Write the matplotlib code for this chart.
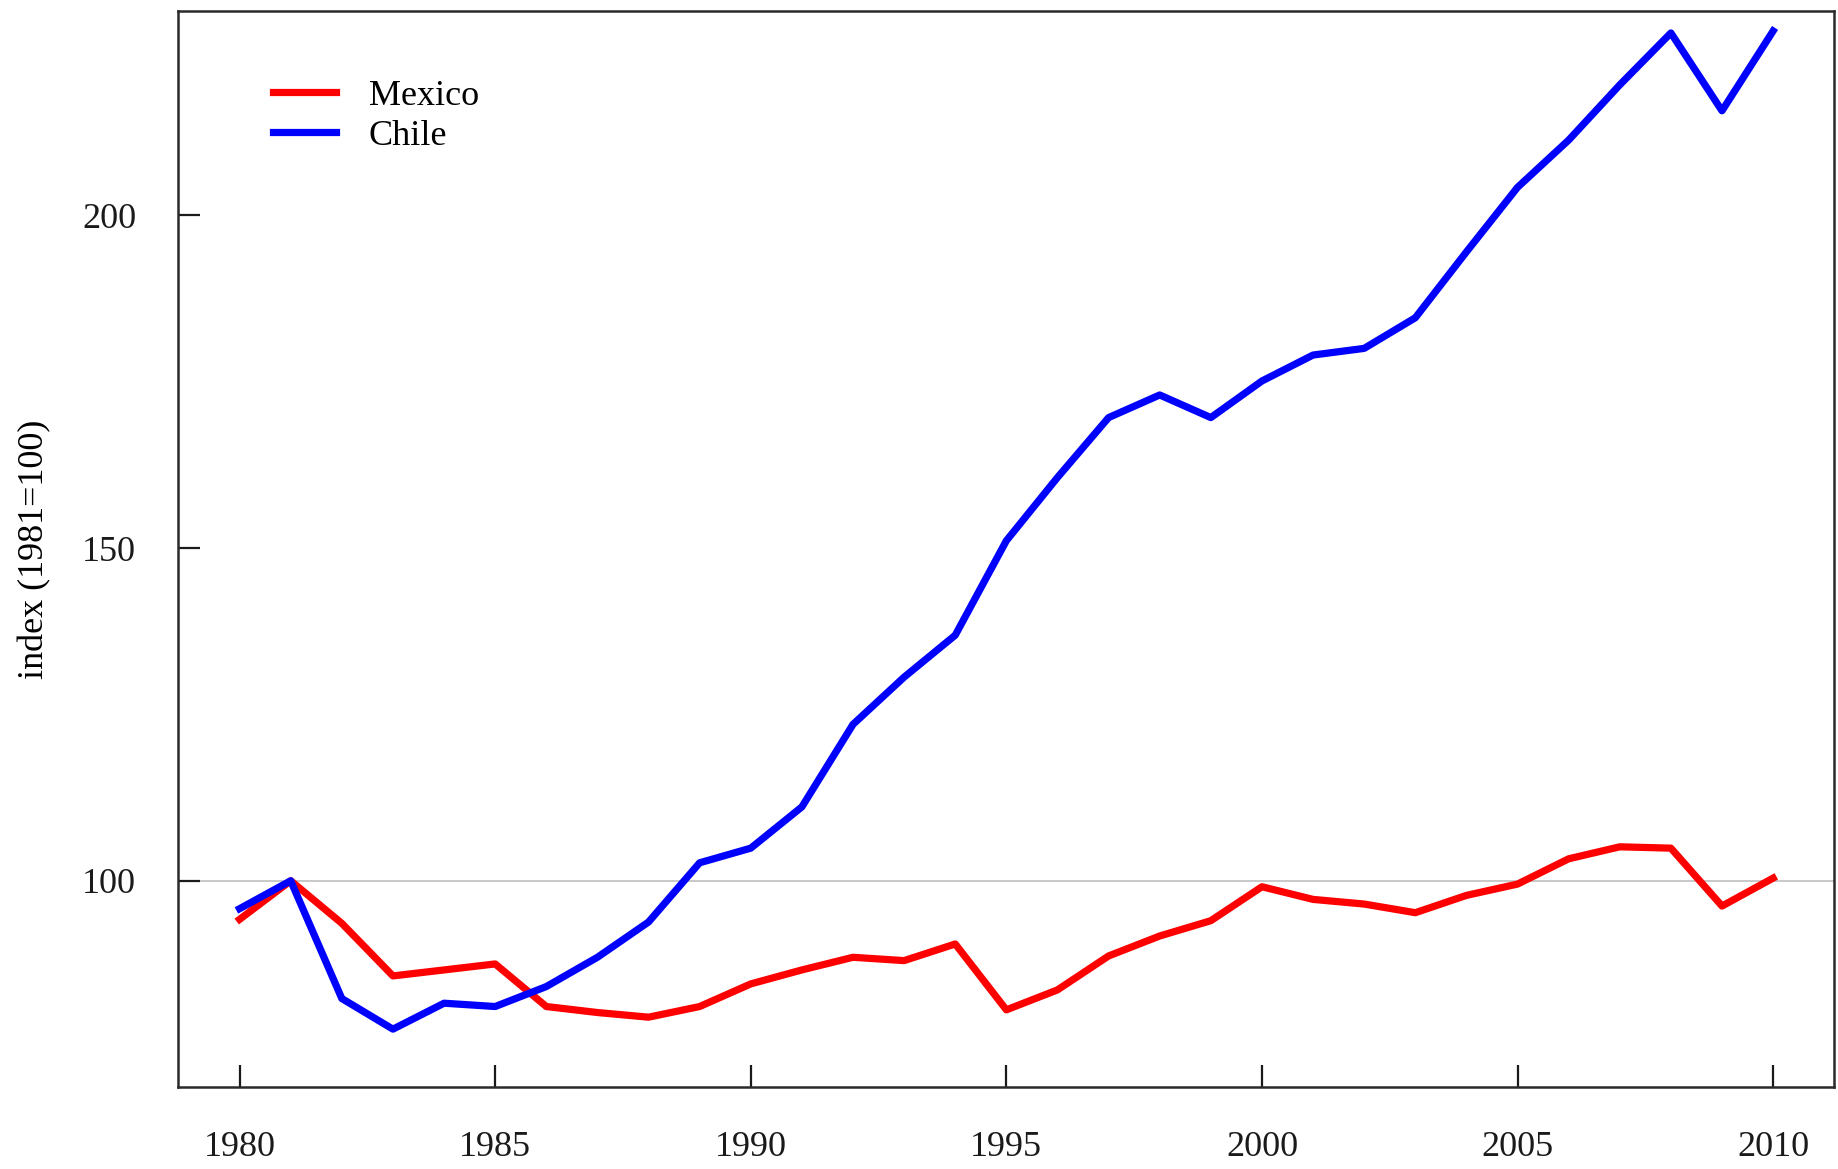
import matplotlib
matplotlib.use("Agg")
import matplotlib.pyplot as plt

# Data (index, 1981 = 100)
years = list(range(1980, 2011))
mexico = [94.2, 100.0, 93.6, 85.7, 86.6, 87.5, 81.1, 80.2, 79.5, 81.1,
          84.5, 86.6, 88.5, 88.0, 90.5, 80.6, 83.6, 88.7, 91.7, 94.0,
          99.1, 97.2, 96.5, 95.2, 97.8, 99.5, 103.3, 105.1, 104.9, 96.2,
          100.4]
chile = [95.8, 100.0, 82.3, 77.7, 81.6, 81.1, 84.1, 88.5, 93.8, 102.7,
         104.9, 111.1, 123.5, 130.6, 136.9, 151.1, 160.6, 169.6, 173.0, 169.6,
         175.1, 179.0, 180.0, 184.6, 194.5, 204.2, 211.3, 219.6, 227.4, 215.7,
         227.7]

x_ticks = [1980, 1985, 1990, 1995, 2000, 2005, 2010]
y_ticks = [100, 150, 200]

plt.rcParams["font.family"] = ["Liberation Serif", "DejaVu Serif"]

fig = plt.figure(figsize=(18.38, 11.69), dpi=100)
ax = fig.add_axes([0.0967, 0.0701, 0.9011, 0.9205])

ax.axhline(100, color="#c4c4c4", lw=1.3, zorder=1)
ax.plot(years, mexico, color="#ff0000", lw=5.2, label="Mexico",
        zorder=3, solid_joinstyle="round")
ax.plot(years, chile, color="#0000ff", lw=5.2, label="Chile",
        zorder=3, solid_joinstyle="round")

ax.set_xlim(1978.79, 2011.19)
ax.set_ylim(69.0, 230.7)

ax.set_xticks(x_ticks)
ax.set_yticks(y_ticks)
ax.tick_params(axis="both", direction="in", length=16, width=1.6,
               labelsize=26, colors="#1a1a1a")
ax.tick_params(axis="x", pad=32)
ax.tick_params(axis="y", pad=30)

for side in ["left", "right", "top", "bottom"]:
    ax.spines[side].set_linewidth(1.8)
    ax.spines[side].set_color("#2a2a2a")

ax.set_ylabel("index (1981=100)", fontsize=26, labelpad=22)

ax.legend(loc="upper left", bbox_to_anchor=(0.0575, 0.9365), frameon=False,
          fontsize=26, handlelength=1.75, handletextpad=0.9,
          labelspacing=0.2, borderpad=0, borderaxespad=0)

fig.savefig("out.png", dpi=100)
